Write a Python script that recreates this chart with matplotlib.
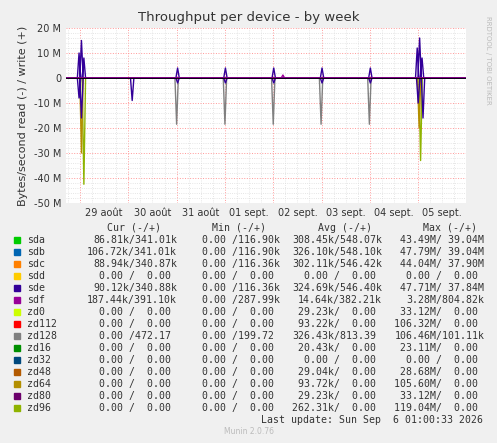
import matplotlib.pyplot as plt
import numpy as np

# day axis: 0 = 29 août 00:00
day_labels = ["29 août", "30 août", "31 août", "01 sept.", "02 sept.",
              "03 sept.", "04 sept.", "05 sept."]

# spikes: (centre time in days, value in M bytes/s); reads negative
sde_write_t = [-0.02, 0.03, 0.08, 2.02, 3.01, 4.01, 5.01, 6.01, 6.98, 7.03, 7.08]
sde_write_v = [10, 15, 8, 4, 4, 4, 4, 4, 12, 16, 8]
sde_read_t = [-0.02, 0.03, 1.08, 2.02, 3.01, 4.01, 5.01, 6.01, 7.0, 7.1]
sde_read_v = [-8, -16, -9, -2, -2, -2, -2, -2, -10, -16]
zd128_read_t = [2.0, 3.0, 4.0, 4.99, 5.99]
zd128_read_v = [-18.5, -18.5, -18.5, -18.5, -18.5]
zd96_read_t = [0.08, 7.05]
zd96_read_v = [-42.5, -33]
zd64_read_t = [0.03, 7.02]
zd64_read_v = [-30, -20]
sdf_write_t = [4.2]
sdf_write_v = [1.2]

names = ["sda", "sdb", "sdc", "sdd", "sde", "sdf", "zd0", "zd112", "zd128",
         "zd16", "zd32", "zd48", "zd64", "zd80", "zd96"]
colors = ["#00cc00", "#0066b3", "#ff8000", "#ffcc00", "#330099", "#990099",
          "#ccff00", "#ff0000", "#808080", "#008f00", "#00487d", "#b35a00",
          "#b38f00", "#6b006b", "#8fb300"]
cur = ["86.81k/341.01k", "106.72k/341.01k", "88.94k/340.87k", "0.00 /  0.00",
       "90.12k/340.88k", "187.44k/391.10k", "0.00 /  0.00", "0.00 /  0.00",
       "0.00 /472.17", "0.00 /  0.00", "0.00 /  0.00", "0.00 /  0.00",
       "0.00 /  0.00", "0.00 /  0.00", "0.00 /  0.00"]
mins = ["0.00 /116.90k", "0.00 /116.90k", "0.00 /116.36k", "0.00 /  0.00",
        "0.00 /116.36k", "0.00 /287.99k", "0.00 /  0.00", "0.00 /  0.00",
        "0.00 /199.72", "0.00 /  0.00", "0.00 /  0.00", "0.00 /  0.00",
        "0.00 /  0.00", "0.00 /  0.00", "0.00 /  0.00"]
avgs = ["308.45k/548.07k", "326.10k/548.10k", "302.11k/546.42k", "0.00 /  0.00",
        "324.69k/546.40k", "14.64k/382.21k", "29.23k/  0.00", "93.22k/  0.00",
        "326.43k/813.39", "20.43k/  0.00", "0.00 /  0.00", "29.04k/  0.00",
        "93.72k/  0.00", "29.23k/  0.00", "262.31k/  0.00"]
maxs = ["43.49M/ 39.04M", "47.79M/ 39.04M", "44.04M/ 37.90M", "0.00 /  0.00",
        "47.71M/ 37.84M", "3.28M/804.82k", "33.12M/  0.00", "106.32M/  0.00",
        "106.46M/101.11k", "23.11M/  0.00", "0.00 /  0.00", "28.68M/  0.00",
        "105.60M/  0.00", "33.12M/  0.00", "119.04M/  0.00"]


def spike_line(ts, vs, w=0.035):
    x, y = [-0.29], [0]
    for t, v in zip(ts, vs):
        x += [t - w, t, t + w]
        y += [0, v, 0]
    x.append(8.0)
    y.append(0)
    return np.array(x), np.array(y)


fig = plt.figure(figsize=(4.97, 4.43), dpi=100, facecolor="#f0f0f0")
ax = fig.add_axes([66 / 497, 1 - 203 / 443, 400 / 497, 175 / 443])
ax.set_facecolor("white")

for ts, vs, c in [(zd128_read_t, zd128_read_v, "#808080"),
                  (zd96_read_t, zd96_read_v, "#8fb300"),
                  (zd64_read_t, zd64_read_v, "#b38f00"),
                  (sdf_write_t, sdf_write_v, "#990099"),
                  (sde_read_t, sde_read_v, "#330099"),
                  (sde_write_t, sde_write_v, "#330099")]:
    x, y = spike_line(ts, vs)
    ax.plot(x, y, color=c, lw=1)
ax.axhline(0, color="black", lw=1.2)
ax.axhline(0.3, color="#990099", lw=0.6)

ax.set_xlim(-0.29, 7.99)
ax.set_ylim(-50, 20)
ax.set_yticks(np.arange(-50, 21, 10))
ax.set_yticklabels([f"{v} M" if v else "0" for v in range(-50, 21, 10)])
ax.set_yticks(np.arange(-50, 21, 2), minor=True)
ax.set_xticks(np.arange(0, 8))
ax.set_xticks(np.arange(-0.25, 8, 0.25), minor=True)
ax.set_xticklabels([])
for i, lab in enumerate(day_labels):
    ax.text(i + 0.5, -52, lab, ha="center", va="top", fontsize=7, color="#333333")
ax.grid(which="major", color="#ff9999", ls=":", lw=0.7)
ax.grid(which="minor", color="#dddddd", ls=":", lw=0.6)
ax.tick_params(which="both", length=0, labelsize=7, colors="#333333")
for s in ax.spines.values():
    s.set_visible(False)
ax.set_ylabel("Bytes/second read (-) / write (+)", fontsize=8, color="#333333")

fig.text(0.5, 1 - 18 / 443, "Throughput per device - by week", ha="center",
         va="center", fontsize=9.5, color="#333333")
fig.text(488 / 497, 1 - 60 / 443, "RRDTOOL / TOBI OETIKER", rotation=270,
         ha="center", va="center", fontsize=5, color="#bbbbbb")

mono = "DejaVu Sans Mono"
fs = 7.1
cw = 0.602 * fs * 100 / 72  # char width in px


def mtext(x, ypx, s, **kw):
    fig.text(x / 497, 1 - ypx / 443, s, va="center", family=mono,
             fontsize=fs, color="#333333", **kw)


hy = 228
for hx, h in zip([107, 212, 318, 423], ["Cur (-/+)", "Min (-/+)", "Avg (-/+)", "Max (-/+)"]):
    mtext(hx, hy, h)
slash_x = [128.5, 231.6, 333.5, 436.0]
for i, n in enumerate(names):
    ypx = 240 + 12 * i
    fig.patches.append(plt.Rectangle((14 / 497, 1 - (ypx + 3) / 443), 6 / 497, 6 / 443,
                                     transform=fig.transFigure, color=colors[i]))
    mtext(27, ypx, n)
    for sx, col in zip(slash_x, [cur, mins, avgs, maxs]):
        s = col[i]
        mtext(sx - s.index("/") * cw, ypx, s)
mtext(483, 420, "Last update: Sun Sep  6 01:00:33 2026", ha="right")
fig.text(0.5, 1 - 432 / 443, "Munin 2.0.76", ha="center", va="center",
         fontsize=5.5, color="#bbbbbb")

fig.savefig("out.png", dpi=100, facecolor=fig.get_facecolor())
